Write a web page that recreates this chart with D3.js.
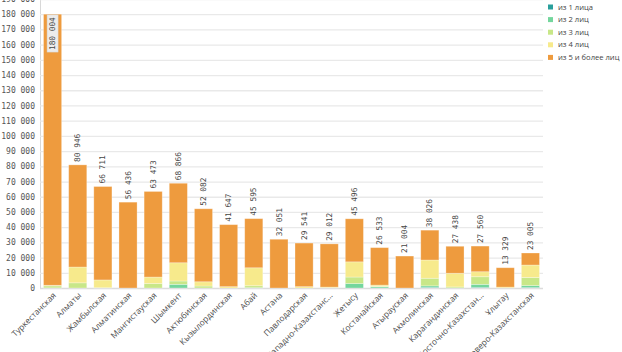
<!DOCTYPE html>
<html>
<head>
<meta charset="utf-8">
<script src="https://cdn.jsdelivr.net/npm/d3@7"></script>
<style>
  body { margin: 0; background: #fff; }
  .tick text { font-family: "DejaVu Sans Mono", monospace; font-size: 8px; fill: #555; }
  .xlab { font-family: "Open Sans", sans-serif; font-size: 8.4px; fill: #4d4d4d; }
  .legend text { font-family: "Open Sans", sans-serif; font-size: 7.6px; fill: #444; }
  .val { font-family: "DejaVu Sans Mono", monospace; font-size: 7.8px; fill: #444; }
</style>
</head>
<body>
<div id="chart"></div>
<script>
// Data
const regions = ["Туркестанская", "Алматы", "Жамбылская", "Алматинская", "Мангистауская",
  "Шымкент", "Актюбинская", "Кызылординская", "Абай", "Астана", "Павлодарская",
  "Западно-Казахстанс…", "Жетысу", "Костанайская", "Атырауская", "Акмолинская",
  "Карагандинская", "Восточно-Казахстан…", "Ұлытау", "Северо-Казахстанская"];
const totals = [180004, 80946, 66711, 56436, 63473, 68866, 52082, 41647, 45595, 32051,
  29541, 29012, 45496, 26533, 21004, 38026, 27438, 27560, 13329, 23005];
const pers1 = [0, 0, 0, 0, 0, 0, 0, 0, 0, 0, 0, 0, 0, 0, 0, 400, 0, 400, 0, 300];
const pers2 = [100, 0, 0, 0, 0, 2400, 0, 0, 200, 0, 0, 0, 2900, 800, 0, 1000, 0, 2000, 0, 1300];
const pers3 = [1300, 3400, 200, 0, 2900, 2200, 1300, 0, 1300, 0, 0, 300, 4300, 300, 0, 5000, 700, 5000, 0, 5300];
const pers4 = [400, 10400, 5100, 0, 4300, 12000, 2800, 900, 11800, 0, 900, 300, 10000, 800, 0, 12000, 9000, 3300, 600, 8200];
const pers5 = [178204, 67146, 61411, 56436, 56273, 52266, 47982, 40747, 32295, 32051, 28641,
  28412, 28296, 24633, 21004, 19626, 17738, 16860, 12729, 7905];
const seriesNames = ["из 1 лица", "из 2 лиц", "из 3 лиц", "из 4 лиц", "из 5 и более лиц"];
const colors = ["#2a9f9c", "#74d69d", "#c8e788", "#f7ea8c", "#ee9b3e"];

const width = 622, height = 352;
const margin = { top: 0, right: 79, bottom: 64, left: 40 };
const w = width - margin.left - margin.right;
const h = height - margin.top - margin.bottom;

const rows = regions.map(function(r, i) {
  return { region: r, total: totals[i], p1: pers1[i], p2: pers2[i], p3: pers3[i], p4: pers4[i], p5: pers5[i] };
});
const keys = ["p1", "p2", "p3", "p4", "p5"];
const stacked = d3.stack().keys(keys)(rows);

const x = d3.scaleBand().domain(regions).range([0, w]).paddingInner(0.28).paddingOuter(0.14);
const y = d3.scaleLinear().domain([0, 190000]).range([h, -1]);
const fmt = function(v) { return d3.format(",")(v).replace(/,/g, " "); };

const svg = d3.select("#chart").append("svg")
  .attr("width", width).attr("height", height);
const g = svg.append("g").attr("transform", "translate(" + margin.left + "," + margin.top + ")");

// Grid + y axis
const yAxis = d3.axisLeft(y).tickValues(d3.range(0, 190001, 10000))
  .tickSize(-w).tickFormat(fmt);
const ya = g.append("g").call(yAxis);
ya.select(".domain").attr("stroke", "#d8d8d8");
ya.selectAll(".tick line").attr("stroke", "#e9e9e9").attr("stroke-width", 1.3);
ya.selectAll(".tick text").attr("x", -5);
ya.selectAll(".tick").filter(function(d) { return d === 0; }).select("line").attr("stroke", "#dcdcdc");

// Bars
g.selectAll(".layer").data(stacked).enter().append("g")
  .attr("fill", function(d, i) { return colors[i]; })
  .selectAll("rect").data(function(d) { return d; }).enter().append("rect")
  .filter(function(d) { return d[1] - d[0] > 0; })
  .attr("x", function(d) { return x(d.data.region); })
  .attr("width", x.bandwidth())
  .attr("y", function(d) { return y(d[1]); })
  .attr("height", function(d) { return y(d[0]) - y(d[1]); })
  .attr("stroke", "rgba(255,255,255,0.35)")
  .attr("stroke-width", 0.8);

// Value labels
rows.forEach(function(d) {
  const cx = x(d.region) + x.bandwidth() / 2;
  const top = y(d.total);
  const txt = fmt(d.total);
  if (top < 40) {
    // no room above the bar: put label inside, with a box
    const lab = g.append("g").attr("transform", "translate(" + cx + "," + (top + 3) + ") rotate(-90)");
    const t = lab.append("text").attr("class", "val").attr("text-anchor", "end").attr("dy", "0.33em").text(txt);
    const b = t.node().getBBox();
    lab.insert("rect", "text").attr("x", b.x - 2).attr("y", -5.5).attr("width", b.width + 4)
      .attr("height", 11).attr("fill", "#ececec").attr("stroke", "#d4d4d4").attr("stroke-width", 0.5);
  } else {
    g.append("text").attr("class", "val")
      .attr("transform", "translate(" + cx + "," + (top - 3) + ") rotate(-90)")
      .attr("dy", "0.33em").text(txt);
  }
});

// X labels
regions.forEach(function(r) {
  const cx = x(r) + x.bandwidth() / 2;
  g.append("text").attr("class", "xlab")
    .attr("text-anchor", "end")
    .attr("transform", "translate(" + (cx + 4) + "," + (h + 8) + ") rotate(-45)")
    .text(r);
});

// Legend
const legend = svg.append("g").attr("class", "legend").attr("transform", "translate(548,7)");
seriesNames.forEach(function(s, i) {
  const row = legend.append("g").attr("transform", "translate(0," + (i * 12.6) + ")");
  row.append("rect").attr("x", 0).attr("y", -2.5).attr("width", 5).attr("height", 5).attr("fill", colors[i]);
  row.append("text").attr("x", 10).attr("dy", "0.35em").text(s);
});
</script>
</body>
</html>
